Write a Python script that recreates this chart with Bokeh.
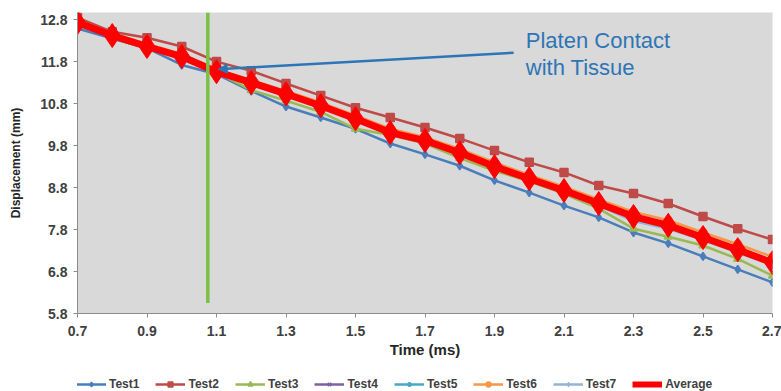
from bokeh.plotting import figure
from bokeh.layouts import column
from bokeh.models import (Range1d, FixedTicker, Legend, LegendItem, Arrow, NormalHead, Label)
from bokeh.embed import file_html
from bokeh.resources import INLINE

# ---- data ----
time_ms = [0.7, 0.8, 0.9, 1.0, 1.1, 1.2, 1.3, 1.4, 1.5, 1.6, 1.7,
           1.8, 1.9, 2.0, 2.1, 2.2, 2.3, 2.4, 2.5, 2.6, 2.7]
test1 = [12.59, 12.35, 12.12, 11.72, 11.50, 11.10, 10.73, 10.47, 10.20, 9.85, 9.59,
         9.32, 8.97, 8.68, 8.37, 8.09, 7.73, 7.47, 7.16, 6.85, 6.54]
test2 = [12.85, 12.51, 12.37, 12.16, 11.80, 11.58, 11.28, 10.99, 10.70, 10.47, 10.23,
         9.97, 9.68, 9.40, 9.16, 8.85, 8.66, 8.42, 8.11, 7.82, 7.56]
test3 = [12.72, 12.43, 12.15, 11.88, 11.55, 11.12, 10.87, 10.60, 10.20, 10.05, 9.85,
         9.50, 9.20, 8.95, 8.65, 8.30, 7.82, 7.63, 7.42, 7.10, 6.70]
test4 = [12.74, 12.43, 12.17, 11.93, 11.57, 11.31, 11.04, 10.76, 10.45, 10.13, 9.93,
         9.64, 9.31, 9.02, 8.74, 8.43, 8.12, 7.91, 7.62, 7.33, 7.02]
test5 = [12.72, 12.41, 12.14, 11.90, 11.55, 11.28, 11.00, 10.72, 10.42, 10.09, 9.90,
         9.61, 9.28, 8.99, 8.71, 8.40, 8.08, 7.87, 7.58, 7.29, 6.98]
test6 = [12.78, 12.47, 12.22, 11.98, 11.62, 11.36, 11.10, 10.83, 10.52, 10.20, 10.00,
         9.72, 9.40, 9.10, 8.82, 8.52, 8.22, 8.02, 7.73, 7.45, 7.15]
test7 = [12.70, 12.40, 12.13, 11.88, 11.53, 11.26, 10.98, 10.70, 10.40, 10.07, 9.87,
         9.58, 9.25, 8.96, 8.68, 8.37, 8.00, 7.82, 7.55, 7.25, 6.95]
average = [12.73, 12.42, 12.16, 11.92, 11.56, 11.30, 11.03, 10.75, 10.44, 10.11, 9.92,
           9.63, 9.30, 9.01, 8.73, 8.42, 8.11, 7.90, 7.61, 7.32, 7.01]

series_names = ["Test1", "Test2", "Test3", "Test4", "Test5", "Test6", "Test7"]
series_values = [test1, test2, test3, test4, test5, test6, test7]
series_colors = ["#4a7ebb", "#be4b48", "#98b954", "#7d60a0", "#46aac5", "#f79646", "#95b3d7"]
series_markers = ["diamond", "square", "triangle", "x", "asterisk", "circle", "cross"]

x_ticks = [0.7, 0.9, 1.1, 1.3, 1.5, 1.7, 1.9, 2.1, 2.3, 2.5, 2.7]
y_ticks = [5.8, 6.8, 7.8, 8.8, 9.8, 10.8, 11.8, 12.8]
contact_time = 1.075
annotation_text = "Platen Contact\nwith Tissue"

FONT = "Liberation Sans"
TXT = "#404040"

p = figure(width=781, height=366, output_backend="svg", toolbar_location=None,
           x_range=Range1d(0.7, 2.7), y_range=Range1d(5.8, 12.97),
           min_border_left=77, min_border_right=9, min_border_top=12, min_border_bottom=53)
p.background_fill_color = "#d9d9d9"
p.border_fill_color = "white"
p.outline_line_color = None
p.xgrid.visible = False
p.ygrid.visible = False

for ax in (p.xaxis[0], p.yaxis[0]):
    ax.axis_line_color = "#8c8c8c"
    ax.major_tick_line_color = "#8c8c8c"
    ax.major_tick_out = 4
    ax.major_tick_in = 0
    ax.minor_tick_line_color = None
    ax.major_label_text_font = FONT
    ax.major_label_text_font_style = "bold"
    ax.major_label_text_font_size = "14px"
    ax.major_label_text_color = TXT
    ax.axis_label_text_font = FONT
    ax.axis_label_text_font_style = "bold"
    ax.axis_label_text_color = "#262626"

p.xaxis.ticker = FixedTicker(ticks=x_ticks)
p.yaxis.ticker = FixedTicker(ticks=y_ticks)
p.xaxis.axis_label = "Time (ms)"
p.yaxis.axis_label = "Displacement (mm)"
p.xaxis.axis_label_text_font_size = "15px"
p.yaxis.axis_label_text_font_size = "12px"
p.xaxis.major_label_standoff = 8
p.yaxis.major_label_standoff = 6
p.xaxis.axis_label_standoff = 2
p.yaxis.axis_label_standoff = 14

for name, vals, col, mk in zip(series_names, series_values, series_colors, series_markers):
    p.line(time_ms, vals, line_color=col, line_width=2.5)
    p.scatter(time_ms, vals, marker=mk, size=8, fill_color=col, line_color=col, line_width=1.5)

p.line(time_ms, average, line_color="#ff0000", line_width=7)
p.scatter(time_ms, average, marker="diamond", size=24, fill_color="#ff0000", line_color="#ff0000")

# contact line
p.segment(x0=[contact_time], y0=[6.05], x1=[contact_time], y1=[12.97],
          line_color="#7ac143", line_width=3.5)

# annotation arrow
p.add_layout(Arrow(start=NormalHead(size=9, fill_color="#2e75b6", line_color="#2e75b6"), end=None,
                   x_start=1.105, y_start=11.62, x_end=1.955, y_end=12.01,
                   line_color="#2e75b6", line_width=2.5))
p.add_layout(Label(x=1.99, y=12.6, text=annotation_text, text_font=FONT,
                   text_font_size="22px", text_color="#2e75b6",
                   text_baseline="top", text_line_height=1.08))

# ---- legend strip below the chart (hidden copies of the series feed the legend) ----
lg = figure(width=781, height=25, output_backend="svg", toolbar_location=None,
            x_axis_type=None, y_axis_type=None, min_border=0,
            x_range=Range1d(0.7, 2.7), y_range=Range1d(5.8, 12.97))
lg.outline_line_color = None
lg.background_fill_color = "white"
items = []
for name, vals, col, mk in zip(series_names, series_values, series_colors, series_markers):
    r1 = lg.line(time_ms, vals, line_color=col, line_width=2.5, visible=False)
    r2 = lg.scatter(time_ms, vals, marker=mk, size=8, fill_color=col, line_color=col,
                    line_width=1.5, visible=False)
    items.append(LegendItem(label=name, renderers=[r1, r2]))
ra = lg.line(time_ms, average, line_color="#ff0000", line_width=6, visible=False)
rb = lg.scatter(time_ms, average, marker="diamond", size=10, fill_color="#ff0000",
                line_color="#ff0000", visible=False)
items.append(LegendItem(label="Average", renderers=[ra, rb]))

legend = Legend(items=items, orientation="horizontal", location=(-1, 0),
                label_text_font=FONT, label_text_font_style="bold",
                label_text_font_size="12px", label_text_color=TXT,
                glyph_width=30, glyph_height=12, spacing=16, padding=2,
                label_standoff=3, border_line_color=None, background_fill_alpha=0,
                margin=0, label_height=14, click_policy="none")
lg.add_layout(legend, "center")

layout = column(p, lg, spacing=0)
open("out.html", "w").write(file_html(layout, INLINE))
